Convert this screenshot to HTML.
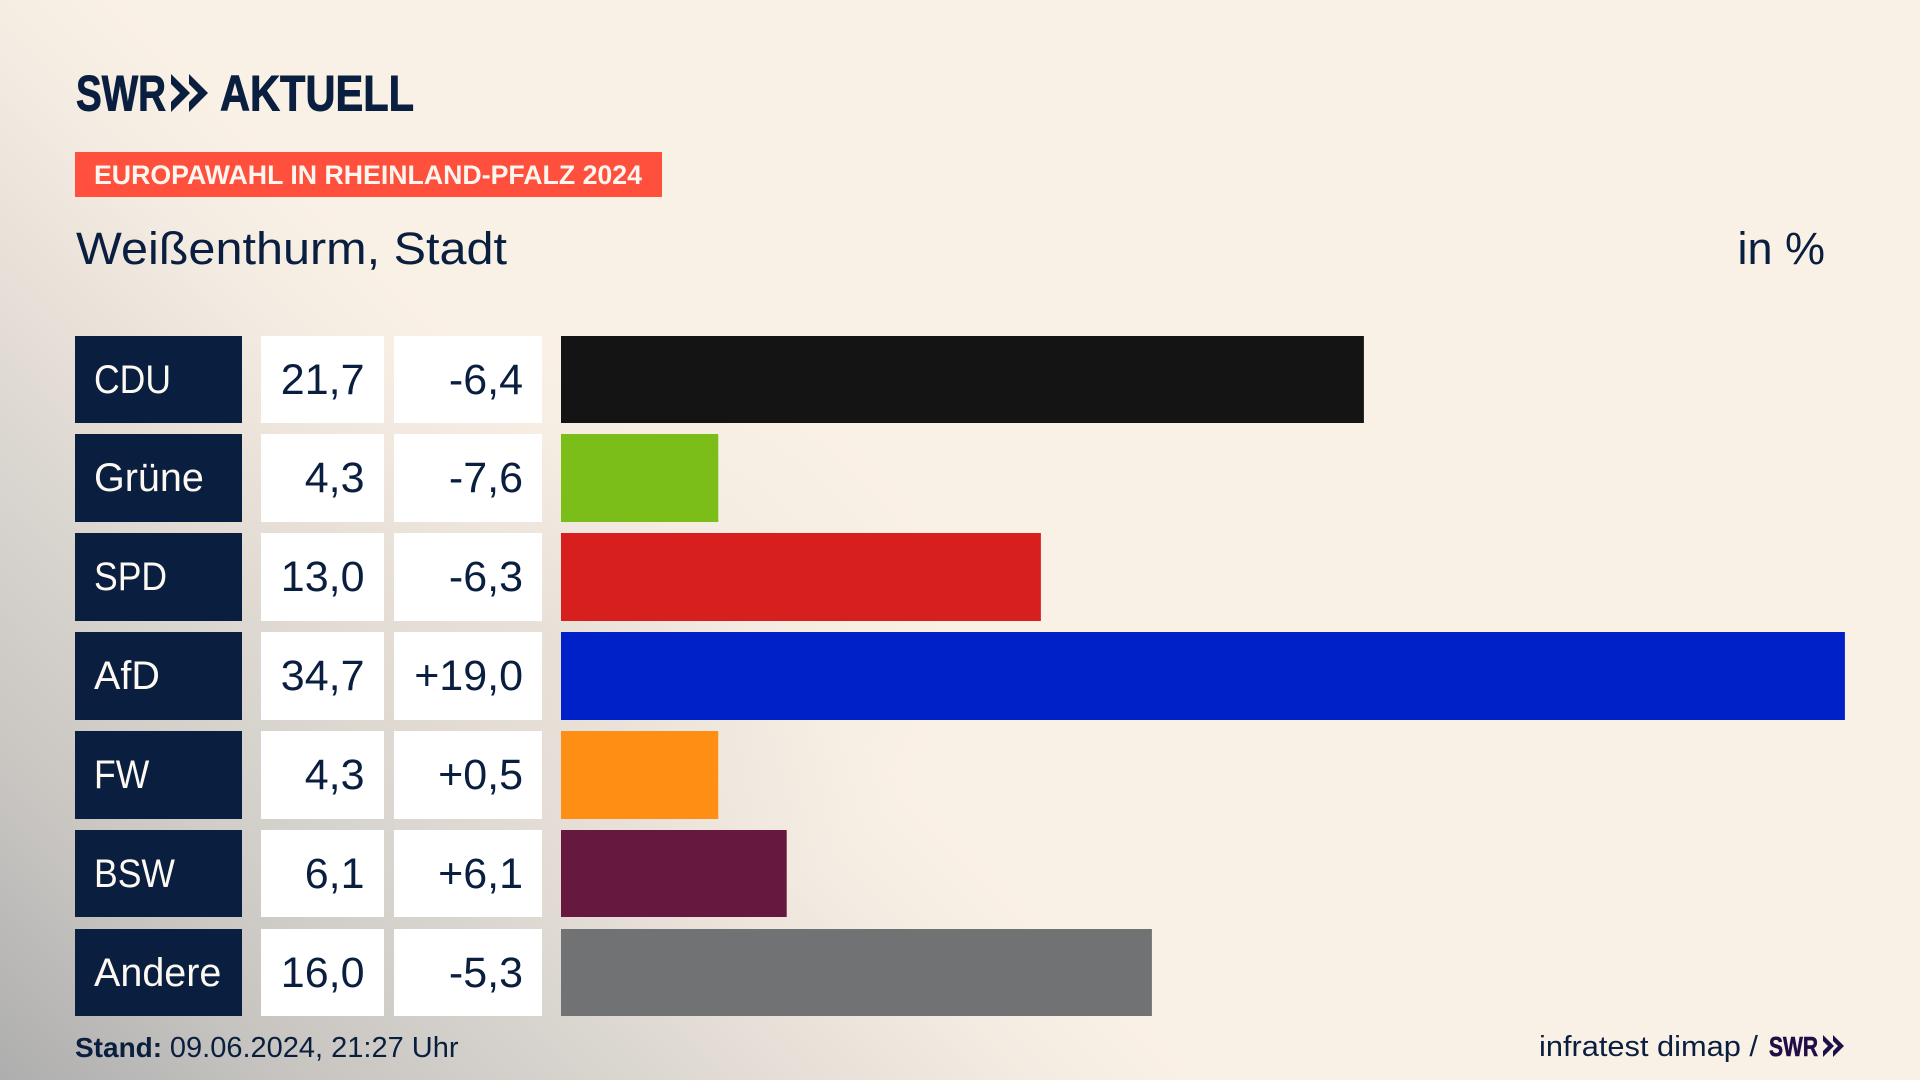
<!DOCTYPE html>
<html lang="de">
<head>
<meta charset="utf-8">
<title>Europawahl in Rheinland-Pfalz 2024 – Weißenthurm, Stadt</title>
<style>
html,body{margin:0;padding:0;width:1920px;height:1080px;overflow:hidden;background:#faf1e6}
#stage{position:relative;width:1920px;height:1080px;overflow:hidden;background:
 radial-gradient(ellipse 420px 300px at 540px 640px,rgba(205,200,195,.28) 0%,rgba(205,200,195,0) 100%),
 linear-gradient(225deg,#faf1e6 0%,#faf1e6 60%,#f3ebe1 66%,#e8e0d8 72.7%,#d9d5cf 79.3%,#c9c6c2 89.3%,#aeaeae 100%)}
svg{position:absolute;left:0;top:0;font-family:"Liberation Sans",sans-serif}
</style>
</head>
<body>
<div id="stage">
<svg id="chart" width="1920" height="1080" viewBox="0 0 1920 1080">
  <g fill="#0a1f3f">
    <text x="76" y="110.5" font-size="50" font-weight="700" stroke="#0a1f3f" stroke-width="0.9" textLength="90" lengthAdjust="spacingAndGlyphs">SWR</text>
    <path d="M171 74L190 93L171 112L171 102L180 93L171 84ZM189 74L208 93L189 112L189 102L198 93L189 84Z"/>
    <text x="220" y="110.5" font-size="50" font-weight="700" stroke="#0a1f3f" stroke-width="0.9" textLength="194" lengthAdjust="spacingAndGlyphs">AKTUELL</text>
  </g>
  <rect x="75" y="152" width="587" height="45" fill="#ff4f3d"/>
  <text x="94" y="184" font-size="27" font-weight="700" fill="#fdf6ee" textLength="548" lengthAdjust="spacingAndGlyphs">EUROPAWAHL IN RHEINLAND-PFALZ 2024</text>
  <text x="76" y="264" font-size="45" fill="#0a1f3f" textLength="431" lengthAdjust="spacingAndGlyphs">Weißenthurm, Stadt</text>
  <text x="1825" y="264" font-size="45" fill="#0a1f3f" text-anchor="end">in %</text>
  <g id="rows"></g>
  <text x="75" y="1057" font-size="28" fill="#0a1f3f"><tspan font-weight="700">Stand:</tspan> <tspan font-size="29">09.06.2024, 21:27 Uhr</tspan></text>
  <text x="1539" y="1056" font-size="29" fill="#0a1f3f" textLength="219" lengthAdjust="spacingAndGlyphs">infratest dimap /</text>
  <text x="1769" y="1056" font-size="28" font-weight="700" fill="#1f0f47" stroke="#1f0f47" stroke-width="0.6" textLength="49" lengthAdjust="spacingAndGlyphs">SWR</text>
  <path d="M1823 1035L1834 1046L1823 1057L1823 1051L1828 1046L1823 1041ZM1833 1035L1844 1046L1833 1057L1833 1051L1838 1046L1833 1041Z" fill="#1f0f47"/>
</svg>
</div>
<script>
const parties = ["CDU", "Grüne", "SPD", "AfD", "FW", "BSW", "Andere"];
const shares = [21.7, 4.25, 12.97, 34.7, 4.25, 6.1, 15.97];
const changes = [-6.4, -7.6, -6.3, 19.0, 0.5, 6.1, -5.3];
const partyColors = ["#141414", "#7bbd19", "#d7201e", "#0020c8", "#ff8f14", "#66183e", "#707274"];

const NS = "http://www.w3.org/2000/svg";
const rowsGroup = document.getElementById("rows");
const xStart = 561;
const xPerPercent = 37;
const rowTop = 335.6;
const rowStep = 98.83;
const rowHeight = 87.6;

function xAxis(value) {
  return xPerPercent * value;
}
function yAxis(index) {
  return Math.round(rowTop + rowStep * index);
}
function yBottom(index) {
  return Math.round(rowTop + rowStep * index + rowHeight);
}
function formatShare(value) {
  return value.toFixed(1).replace(".", ",");
}
function formatChange(value) {
  return (value > 0 ? "+" : "") + value.toFixed(1).replace(".", ",");
}
function makeRect(x, y, w, h, fill) {
  const r = document.createElementNS(NS, "rect");
  r.setAttribute("x", x);
  r.setAttribute("y", y);
  r.setAttribute("width", w);
  r.setAttribute("height", h);
  r.setAttribute("fill", fill);
  return r;
}
function makeText(x, y, str, fill, anchor, size) {
  const t = document.createElementNS(NS, "text");
  t.setAttribute("x", x);
  t.setAttribute("y", y);
  t.setAttribute("font-size", size);
  t.setAttribute("fill", fill);
  t.setAttribute("text-anchor", anchor);
  t.textContent = str;
  return t;
}

parties.forEach(function (party, i) {
  const y = yAxis(i);
  const h = yBottom(i) - y;
  const baseline = y + 58;
  const key = party.toLowerCase().replace("ü", "ue");

  const labelBox = makeRect(75, y, 167, h, "#0a1f3f");
  
  
  rowsGroup.appendChild(labelBox);

  const labelText = makeText(94, baseline - 1, party, "#fdf8f2", "start", 39.5);
  
  
  rowsGroup.appendChild(labelText);
  if (party === party.toUpperCase()) {
    labelText.setAttribute("textLength", labelText.getComputedTextLength() * 0.9);
    labelText.setAttribute("lengthAdjust", "spacingAndGlyphs");
  }

  const shareBox = makeRect(261, y, 123, h, "#ffffff");
  
  
  rowsGroup.appendChild(shareBox);

  const shareText = makeText(364.5, baseline, formatShare(shares[i]), "#0a1f3f", "end", 43);
  
  
  rowsGroup.appendChild(shareText);

  const changeBox = makeRect(394, y, 148, h, "#ffffff");
  
  
  rowsGroup.appendChild(changeBox);

  const changeText = makeText(523, baseline, formatChange(changes[i]), "#0a1f3f", "end", 43);
  
  
  rowsGroup.appendChild(changeText);

  const bar = makeRect(xStart, y, xAxis(shares[i]), h, partyColors[i]);
  
  
  rowsGroup.appendChild(bar);
});
</script>
</body>
</html>
